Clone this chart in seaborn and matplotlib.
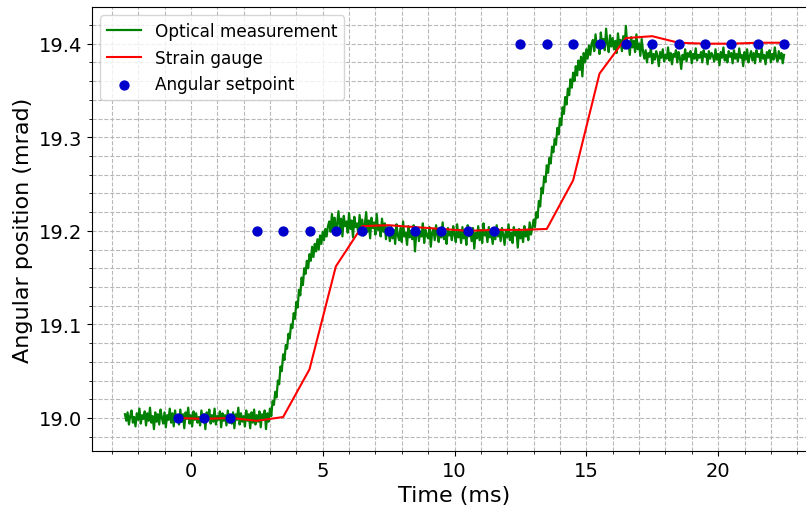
import numpy as np
import pandas as pd
import matplotlib
matplotlib.use("Agg")
import matplotlib.pyplot as plt
from matplotlib.ticker import MultipleLocator, FormatStrFormatter
import seaborn as sns

# ---- data ----
t_start, t_end = -2.5, 22.5  # optical sampling window (ms)
optical = [
    # baseline ~19.0
    19.004, 18.997, 19.006, 18.993, 19.002, 19.008, 18.995, 19.001, 18.991, 19.005,
    18.998, 19.010, 18.994, 19.003, 18.999, 19.007, 18.992, 19.005, 18.997, 19.011,
    18.995, 19.002, 18.988, 19.006, 18.996, 19.004, 18.993, 19.009, 19.000, 18.994,
    19.006, 18.990, 19.003, 18.998, 19.010, 18.995, 19.005, 18.991, 19.008, 18.997,
    19.002, 18.993, 19.009, 18.996, 19.004, 18.989, 19.006, 18.999, 19.011, 18.994,
    19.003, 18.991, 19.007, 18.998, 19.005, 18.995, 19.001, 18.992, 19.008, 18.997,
    19.004, 18.988, 19.006, 19.000, 19.009, 18.994, 19.003, 18.996, 19.010, 18.993,
    19.002, 18.998, 19.007, 18.990, 19.005, 18.997, 19.003, 18.992, 19.008, 18.995,
    19.001, 18.994, 19.006, 18.989, 19.004, 18.998, 19.011, 18.993, 19.005, 18.996,
    19.002, 18.991, 19.008, 18.997, 19.004, 18.989, 19.006, 18.995, 19.009, 18.993,
    19.003, 18.996, 19.007, 18.990, 19.004, 18.998, 19.008, 18.988, 19.005, 18.996,
    # first rise
    19.010, 19.002, 19.018, 19.014, 19.028, 19.022, 19.040, 19.036, 19.055, 19.050,
    19.068, 19.062, 19.078, 19.074, 19.090, 19.085, 19.100, 19.096, 19.112, 19.106,
    19.124, 19.118, 19.137, 19.131, 19.150, 19.142, 19.160, 19.154, 19.168, 19.160,
    19.175, 19.168, 19.183, 19.172, 19.186, 19.178, 19.191, 19.180, 19.195, 19.186,
    19.199, 19.190, 19.202, 19.194, 19.205,
    # overshoot plateau ~19.206
    19.210, 19.199, 19.218, 19.203, 19.214, 19.196, 19.209, 19.221, 19.201, 19.213,
    19.194, 19.216, 19.205, 19.210, 19.198, 19.219, 19.202, 19.211, 19.193, 19.215,
    19.204, 19.208, 19.197, 19.217, 19.200, 19.212, 19.195, 19.207, 19.220, 19.199,
    19.211, 19.192, 19.214, 19.203, 19.209, 19.196, 19.218, 19.201, 19.206, 19.194,
    19.213, 19.199, 19.208, 19.191, 19.204,
    # plateau ~19.196
    19.199, 19.189, 19.204, 19.192, 19.201, 19.186, 19.207, 19.195, 19.190, 19.203,
    19.188, 19.210, 19.194, 19.198, 19.185, 19.205, 19.193, 19.200, 19.191, 19.206,
    19.178, 19.197, 19.203, 19.189, 19.199, 19.194, 19.208, 19.187, 19.201, 19.195,
    19.192, 19.204, 19.183, 19.198, 19.202, 19.190, 19.206, 19.196, 19.188, 19.200,
    19.193, 19.209, 19.191, 19.197, 19.186, 19.203, 19.195, 19.199, 19.190, 19.205,
    19.196, 19.188, 19.207, 19.193, 19.201, 19.187, 19.204, 19.192, 19.199, 19.185,
    19.206, 19.194, 19.200, 19.189, 19.203, 19.181, 19.198, 19.192, 19.205, 19.190,
    19.201, 19.187, 19.208, 19.195, 19.199, 19.188, 19.204, 19.193, 19.197, 19.186,
    19.202, 19.191, 19.206, 19.194, 19.200, 19.189, 19.203, 19.196, 19.185, 19.201,
    19.193, 19.207, 19.190, 19.198, 19.187, 19.204, 19.195, 19.200, 19.182, 19.202,
    19.192, 19.199, 19.188, 19.205, 19.194, 19.201, 19.190, 19.209, 19.196, 19.203,
    # second rise
    19.212, 19.204, 19.220, 19.214, 19.232, 19.226, 19.246, 19.240, 19.258, 19.252,
    19.270, 19.262, 19.278, 19.272, 19.290, 19.284, 19.298, 19.292, 19.310, 19.303,
    19.320, 19.313, 19.332, 19.325, 19.343, 19.335, 19.352, 19.345, 19.362, 19.353,
    19.369, 19.360, 19.376, 19.366, 19.382, 19.372, 19.386, 19.365, 19.390, 19.380,
    19.394, 19.384, 19.398, 19.388, 19.400,
    # overshoot plateau ~19.400
    19.404, 19.392, 19.410, 19.396, 19.402, 19.389, 19.412, 19.398, 19.405, 19.393,
    19.416, 19.400, 19.391, 19.409, 19.397, 19.406, 19.394, 19.403, 19.390, 19.411,
    19.398, 19.404, 19.392, 19.408, 19.395, 19.419, 19.399, 19.401, 19.388, 19.407,
    19.396, 19.403, 19.391, 19.410, 19.394, 19.400, 19.387, 19.405, 19.392,
    # plateau ~19.388
    19.384, 19.393, 19.380, 19.390, 19.386, 19.395, 19.379, 19.389, 19.383, 19.392,
    19.387, 19.376, 19.391, 19.385, 19.394, 19.381, 19.388, 19.384, 19.396, 19.382,
    19.390, 19.378, 19.389, 19.386, 19.393, 19.380, 19.391, 19.385, 19.373, 19.388,
    19.383, 19.394, 19.381, 19.390, 19.386, 19.392, 19.379, 19.389, 19.384, 19.395,
    19.382, 19.388, 19.385, 19.391, 19.380, 19.393, 19.386, 19.389, 19.378, 19.392,
    19.384, 19.390, 19.387, 19.381, 19.394, 19.383, 19.389, 19.377, 19.391, 19.385,
    19.396, 19.382, 19.388, 19.380, 19.392, 19.386, 19.390, 19.379, 19.393, 19.384,
    19.389, 19.381, 19.395, 19.385, 19.388, 19.376, 19.391, 19.383, 19.394, 19.380,
    19.387, 19.392, 19.382, 19.390, 19.379, 19.393, 19.386, 19.389, 19.381, 19.395,
    19.384, 19.388, 19.378, 19.391, 19.385, 19.393, 19.380, 19.389, 19.383, 19.396,
    19.386, 19.381, 19.392, 19.384, 19.390, 19.379, 19.388,
]
optical_time = np.linspace(t_start, t_end, len(optical))

step_time = [-0.5, 0.5, 1.5, 2.5, 3.5, 4.5, 5.5, 6.5, 7.5, 8.5, 9.5, 10.5,
             11.5, 12.5, 13.5, 14.5, 15.5, 16.5, 17.5, 18.5, 19.5, 20.5, 21.5, 22.5]
strain = [19.000, 18.999, 19.000, 18.997, 19.001, 19.052, 19.162, 19.205,
          19.206, 19.204, 19.202, 19.200, 19.201, 19.201, 19.202, 19.254,
          19.368, 19.406, 19.408, 19.401, 19.400, 19.400, 19.401, 19.401]
setpoint = [19.0, 19.0, 19.0, 19.2, 19.2, 19.2, 19.2, 19.2, 19.2, 19.2, 19.2, 19.2,
            19.2, 19.4, 19.4, 19.4, 19.4, 19.4, 19.4, 19.4, 19.4, 19.4, 19.4, 19.4]

df_opt = pd.DataFrame({"t": optical_time, "v": optical})
df_sg = pd.DataFrame({"t": step_time, "v": strain})
df_sp = pd.DataFrame({"t": step_time, "v": setpoint})

# ---- figure ----
fig = plt.figure(figsize=(8.06, 5.10), dpi=100)
ax = fig.add_axes([92 / 806, 58 / 510, (817 - 92) / 806, 444 / 510])

sns.lineplot(data=df_opt, x="t", y="v", color="green", linewidth=1.6,
             label="Optical measurement", ax=ax, errorbar=None, sort=False)
sns.lineplot(data=df_sg, x="t", y="v", color="red", linewidth=1.5,
             label="Strain gauge", ax=ax, errorbar=None, sort=False)
sns.scatterplot(data=df_sp, x="t", y="v", color="mediumblue", s=55, linewidth=0,
                label="Angular setpoint", ax=ax, zorder=3)

ax.set_xlim(-3.75, 23.75)
ax.set_ylim(18.9647, 19.4392)
ax.xaxis.set_major_locator(MultipleLocator(5))
ax.xaxis.set_minor_locator(MultipleLocator(1))
ax.yaxis.set_major_locator(MultipleLocator(0.1))
ax.yaxis.set_minor_locator(MultipleLocator(0.02))
ax.yaxis.set_major_formatter(FormatStrFormatter("%.1f"))
ax.grid(which="both", linestyle="--", color="#b8b8b8", linewidth=0.8)
ax.set_axisbelow(True)
ax.tick_params(axis="both", which="major", labelsize=14)

ax.set_xlabel("Time (ms)", fontsize=16)
ax.set_ylabel("Angular position (mrad)", fontsize=16)
ax.legend(loc="upper left", fontsize=12.2)

fig.savefig("out.png", dpi=100)
